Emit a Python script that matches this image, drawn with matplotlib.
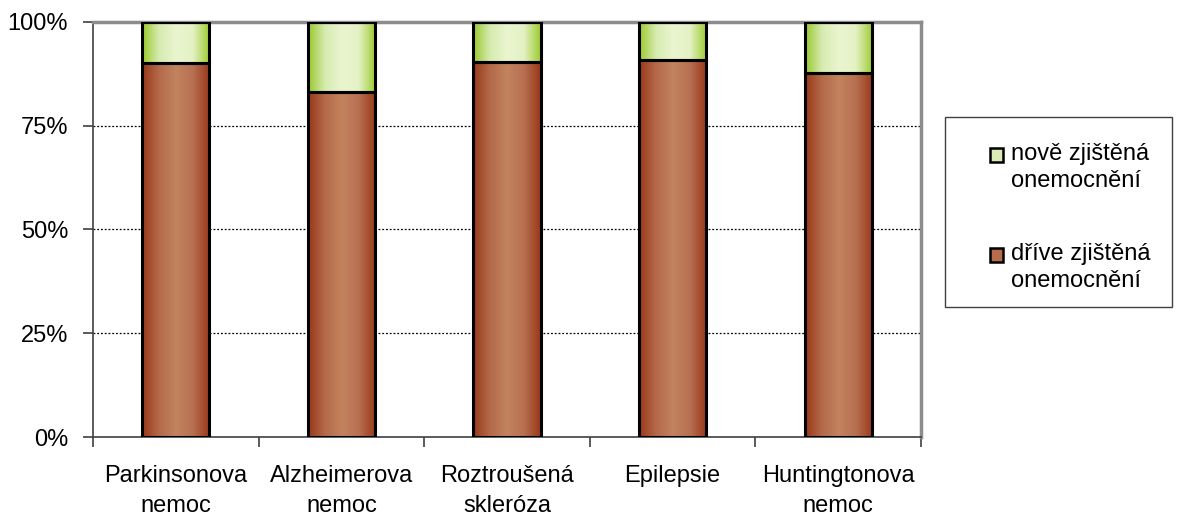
import numpy as np
import matplotlib.pyplot as plt
from matplotlib.colors import LinearSegmentedColormap
from matplotlib.patches import Rectangle

plt.rcParams['font.family'] = ['Liberation Sans', 'DejaVu Sans']

categories = ['Parkinsonova\nnemoc', 'Alzheimerova\nnemoc', 'Roztroušená\nskleróza',
              'Epilepsie', 'Huntingtonova\nnemoc']
drive = [90.0, 83.2, 90.3, 90.9, 87.6]   # dříve zjištěná onemocnění (%)
nove = [100 - v for v in drive]          # nově zjištěná onemocnění (%)
yticks = [0, 25, 50, 75, 100]
ytick_labels = ['0%', '25%', '50%', '75%', '100%']
series_names = ['nově zjištěná\nonemocnění', 'dříve zjištěná\nonemocnění']

brown_cm = LinearSegmentedColormap.from_list('b', ['#983818', '#b46a4a', '#c2835f', '#b87052', '#983818'])
green_cm = LinearSegmentedColormap.from_list('g', ['#99c92a', '#d6ebb0', '#eaf5cf', '#e4f1c4', '#9bcb2e'])

FS = 17
W, H = 1185, 515

fig = plt.figure(figsize=(W / 100, H / 100), dpi=100)
ax = fig.add_axes([93/W, 1 - 437/H, 828/W, 415/H])

x = np.arange(len(categories))
width = 0.405
b1 = ax.bar(x, drive, width, color='none', edgecolor='black', linewidth=2.2, zorder=3)
b2 = ax.bar(x, nove, width, bottom=drive, color='none', edgecolor='black', linewidth=2.2, zorder=3)

grad = np.linspace(0, 1, 256).reshape(1, -1)
for bars, cm in ((b1, brown_cm), (b2, green_cm)):
    for r in bars:
        x0, y0, w, h = r.get_x(), r.get_y(), r.get_width(), r.get_height()
        im = ax.imshow(grad, cmap=cm, aspect='auto', extent=(x0, x0 + w, y0, y0 + h),
                       zorder=2, interpolation='bilinear')
        im.set_clip_path(r)

ax.set_xlim(-0.5, len(categories) - 0.5)
ax.set_ylim(0, 100)
ax.set_yticks(yticks)
ax.set_yticklabels(ytick_labels, fontsize=FS)
ax.set_xticks(x)
ax.set_xticklabels(categories, fontsize=FS)
for t in ax.get_xticklabels():
    t.set_linespacing(1.5)
ax.set_xticks(np.arange(-0.5, len(categories)), minor=True)
ax.tick_params(axis='x', which='major', length=0, pad=20)
ax.tick_params(axis='x', which='minor', length=7, width=1.2, color='#404040')
ax.tick_params(axis='y', length=7, width=1.2, color='#404040', pad=11)
for yv in yticks[1:-1]:
    ax.axhline(yv, color='black', linestyle=(0, (1.5, 1.5)), linewidth=0.9, zorder=1)

for s in ['left', 'bottom']:
    ax.spines[s].set_color('#404040')
    ax.spines[s].set_linewidth(1.2)
for s in ['top', 'right']:
    ax.spines[s].set_color('#8c8c8c')
    ax.spines[s].set_linewidth(2.5)

# legend drawn by hand: marker sits next to the first line of each label
fig.add_artist(Rectangle((945/W, 1 - 307/H), 227/W, 190/H, transform=fig.transFigure,
                         facecolor='white', edgecolor='#404040', linewidth=1.0))
leg_colors = ['#d8ecb4', '#b86c4c']
for i, (name, col) in enumerate(zip(series_names, leg_colors)):
    yc = 155 + 100 * i
    fig.add_artist(Rectangle((990/W, 1 - (yc + 6.5)/H), 13/W, 13/H, transform=fig.transFigure,
                             facecolor=col, edgecolor='black', linewidth=1.8))
    fig.text(1011/W, 1 - (yc - 12)/H, name, fontsize=FS, ha='left', va='top', linespacing=1.3)

fig.savefig('out.png', dpi=100)
